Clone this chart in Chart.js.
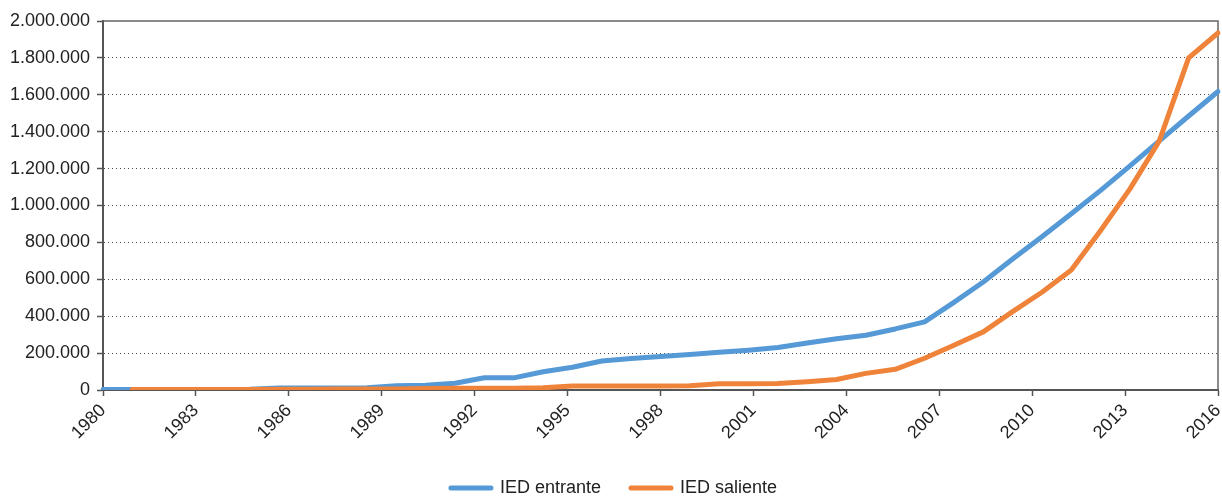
<!DOCTYPE html>
<html>
<head>
<meta charset="utf-8">
<script src="https://cdn.jsdelivr.net/npm/chart.js@4.4.1/dist/chart.umd.min.js"></script>
<style>
  html, body { margin: 0; padding: 0; background: #ffffff; }
  #wrap { width: 1222px; height: 497px; position: relative; }
</style>
</head>
<body>
<div id="wrap"><canvas id="chart"></canvas></div>
<script>
// Year labels shown along the bottom axis
const yearTicks = [1980, 1983, 1986, 1989, 1992, 1995, 1998, 2001, 2004, 2007, 2010, 2013, 2016];

// Value axis ticks
const valueTicks = [0, 200000, 400000, 600000, 800000, 1000000, 1200000, 1400000, 1600000, 1800000, 2000000];

// Stock of foreign direct investment, one value per observation
const iedEntrante = [
  3000, 3000, 3000, 3000, 3000, 4000, 11000, 11000, 11000, 12000,
  23000, 26000, 37000, 66000, 66000, 99000, 123000, 157000, 171000, 181000,
  192000, 205000, 216000, 230000, 255000, 278000, 297000, 331000, 369000, 475000,
  585000, 710000, 830000, 955000, 1082000, 1215000, 1350000, 1485000, 1618000
];
const iedSaliente = [
  null, 3000, 3000, 3000, 3000, 3000, 4000, 4000, 5000, 5000,
  6000, 8000, 9000, 10000, 10000, 12000, 22000, 22000, 22000, 22000,
  23000, 34000, 34000, 35000, 45000, 57000, 90000, 112000, 172000, 243000,
  315000, 425000, 530000, 650000, 865000, 1090000, 1350000, 1800000, 1935000
];

// Observation index for the data axis
const observations = iedEntrante.map((_, i) => String(i + 1));

const seriesNames = ['IED entrante', 'IED saliente'];
const seriesColors = ['#5599d6', '#f0833a'];

const FONT = { family: "'Liberation Sans', Arial, Helvetica, sans-serif", size: 18 };
const TEXT = '#222222';
const AXIS = '#555555';

const fmt = v => String(v).replace(/\B(?=(\d{3})+(?!\d))/g, '.');

// Plot frame on top and right side
const framePlugin = {
  id: 'frame',
  beforeDatasetsDraw(chart) {
    const { ctx, chartArea: a } = chart;
    ctx.save();
    ctx.strokeStyle = '#666666';
    ctx.lineWidth = 1.5;
    ctx.beginPath();
    ctx.moveTo(a.left, a.top);
    ctx.lineTo(a.right, a.top);
    ctx.lineTo(a.right, a.bottom);
    ctx.stroke();
    ctx.restore();
  }
};

new Chart(document.getElementById('chart'), {
  type: 'line',
  data: {
    labels: observations,
    datasets: [
      {
        label: seriesNames[0],
        data: iedEntrante,
        borderColor: seriesColors[0],
        backgroundColor: seriesColors[0],
        borderWidth: 5,
        borderJoinStyle: 'round',
        borderCapStyle: 'round',
        pointRadius: 0,
        tension: 0,
        order: 2,
        xAxisID: 'x',
        yAxisID: 'y'
      },
      {
        label: seriesNames[1],
        data: iedSaliente,
        borderColor: seriesColors[1],
        backgroundColor: seriesColors[1],
        borderWidth: 5,
        borderJoinStyle: 'round',
        borderCapStyle: 'round',
        pointRadius: 0,
        tension: 0,
        order: 1,
        xAxisID: 'x',
        yAxisID: 'y'
      }
    ]
  },
  options: {
    responsive: true,
    maintainAspectRatio: false,
    animation: false,
    layout: { padding: { top: 21, right: 4, left: 10, bottom: 0 } },
    plugins: {
      tooltip: { enabled: false },
      legend: {
        position: 'bottom',
        maxHeight: 48,
        labels: {
          font: FONT,
          color: TEXT,
          boxWidth: 40,
          boxHeight: 0,
          padding: 30,
          sort: (a, b) => a.datasetIndex - b.datasetIndex
        }
      }
    },
    scales: {
      x: {
        type: 'category',
        display: false,
        offset: false
      },
      years: {
        type: 'linear',
        position: 'bottom',
        min: yearTicks[0],
        max: yearTicks[yearTicks.length - 1],
        afterBuildTicks: scale => { scale.ticks = yearTicks.map(v => ({ value: v })); },
        afterFit: scale => { scale.height = 59; scale.paddingRight = 0; scale.paddingLeft = 0; },
        ticks: {
          font: FONT,
          color: TEXT,
          minRotation: 45,
          maxRotation: 45,
          padding: 4,
          autoSkip: false,
          callback: v => String(v)
        },
        grid: {
          display: true,
          drawOnChartArea: false,
          drawTicks: true,
          tickLength: 6,
          tickColor: AXIS,
          tickWidth: 1.5
        },
        border: { display: true, color: AXIS, width: 2 }
      },
      y: {
        type: 'linear',
        min: valueTicks[0],
        max: valueTicks[valueTicks.length - 1],
        afterBuildTicks: scale => { scale.ticks = valueTicks.map(v => ({ value: v })); },
        afterFit: scale => { scale.width = 93; },
        ticks: {
          font: FONT,
          color: TEXT,
          padding: 7,
          callback: v => fmt(v)
        },
        grid: {
          color: c => (c.tick && (c.tick.value === 0 || c.tick.value === valueTicks[valueTicks.length - 1])) ? 'rgba(0,0,0,0)' : '#4a4a4a',
          lineWidth: 1,
          drawTicks: true,
          tickLength: 6,
          tickColor: AXIS,
          tickWidth: 1.5
        },
        border: { display: true, color: AXIS, width: 2, dash: [1, 3] }
      }
    }
  },
  plugins: [framePlugin]
});
</script>
</body>
</html>
